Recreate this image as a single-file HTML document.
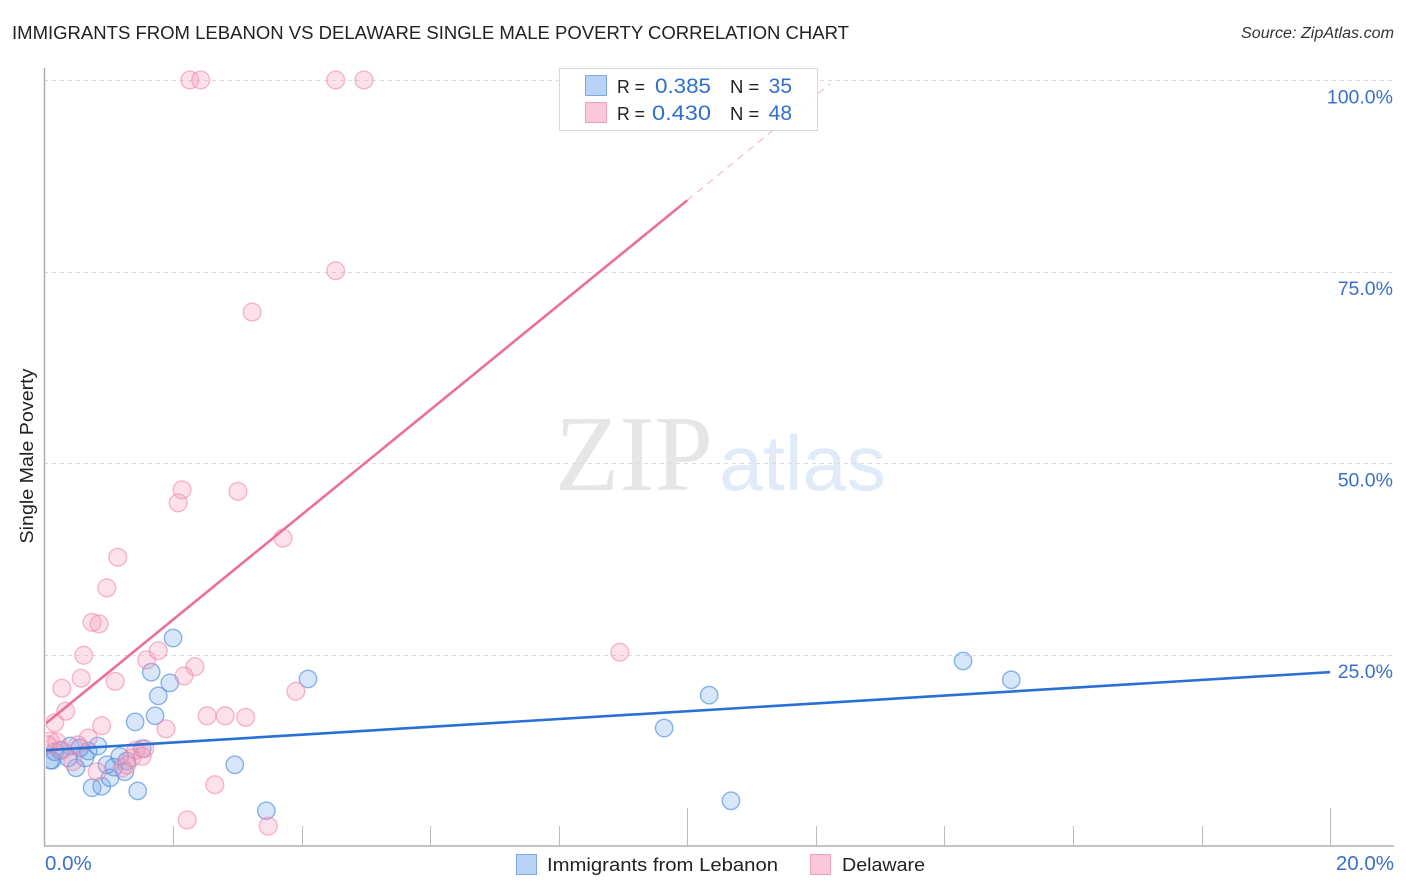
<!DOCTYPE html>
<html lang="en">
<head>
<meta charset="utf-8">
<title>Immigrants from Lebanon vs Delaware Single Male Poverty Correlation Chart</title>
<style>
html,body{margin:0;padding:0;background:#fff;}
body{width:1406px;height:892px;overflow:hidden;font-family:"Liberation Sans",sans-serif;}
svg{display:block;}
text{font-family:"Liberation Sans",sans-serif;}
</style>
</head>
<body>
<svg id="chart" width="1406" height="892" viewBox="0 0 1406 892" xmlns="http://www.w3.org/2000/svg">
  <defs><clipPath id="plot-clip"><rect x="46" y="60" width="1350" height="786"></rect></clipPath></defs>
  <text x="12" y="39" font-size="18.5" fill="#222" textLength="837" lengthAdjust="spacingAndGlyphs">IMMIGRANTS FROM LEBANON VS DELAWARE SINGLE MALE POVERTY CORRELATION CHART</text>
  <text x="1241" y="38" font-size="15.5" font-style="italic" fill="#333" textLength="153" lengthAdjust="spacingAndGlyphs">Source: ZipAtlas.com</text>
  <text x="555" y="490" font-size="108" fill="#e6e6e6" textLength="158" lengthAdjust="spacingAndGlyphs" style="font-family:'Liberation Serif',serif">ZIP</text>
  <text x="719" y="490" font-size="78" fill="#e0eaf8" textLength="167" lengthAdjust="spacingAndGlyphs">atlas</text>
  <g id="grid"></g>
  <g id="axes"></g>
  <g id="series-blue" clip-path="url(#plot-clip)"></g>
  <g id="series-pink" clip-path="url(#plot-clip)"></g>
  <g id="trends" clip-path="url(#plot-clip)"></g>
  <text x="-87.5" y="0" transform="translate(33 456) rotate(-90)" font-size="18.5" fill="#222" textLength="175" lengthAdjust="spacingAndGlyphs">Single Male Poverty</text>

  <g>
    <rect x="559.5" y="68.5" width="258" height="62" fill="#fff" fill-opacity="0.92" stroke="#d8d8d8"></rect>
    <rect x="585.5" y="75.5" width="21" height="20" fill="#b8d3f5" stroke="#7fa9e0"></rect>
    <rect x="585.5" y="102.5" width="21" height="20" fill="#fcc8d9" stroke="#f0a0bb"></rect>
    <text x="617" y="93" font-size="18.5" fill="#222" textLength="28" lengthAdjust="spacingAndGlyphs">R =</text>
    <text x="655" y="93" font-size="21" fill="#2f6fd0" textLength="56" lengthAdjust="spacingAndGlyphs">0.385</text>
    <text x="730" y="93" font-size="18.5" fill="#222">N =</text>
    <text x="792" y="93" font-size="21" fill="#2f6fd0" text-anchor="end">35</text>
    <text x="617" y="120" font-size="18.5" fill="#222" textLength="28" lengthAdjust="spacingAndGlyphs">R =</text>
    <text x="652" y="120" font-size="21" fill="#2f6fd0" textLength="59" lengthAdjust="spacingAndGlyphs">0.430</text>
    <text x="730" y="120" font-size="18.5" fill="#222">N =</text>
    <text x="792" y="120" font-size="21" fill="#2f6fd0" text-anchor="end">48</text>
  </g>

  <g>
    <rect x="516.5" y="854.5" width="20" height="20" fill="#b8d3f5" stroke="#7fa9e0"></rect>
    <text x="547" y="871" font-size="18.5" fill="#222" textLength="231" lengthAdjust="spacingAndGlyphs">Immigrants from Lebanon</text>
    <rect x="810.5" y="854.5" width="20" height="20" fill="#fcc8d9" stroke="#f0a0bb"></rect>
    <text x="842" y="871" font-size="18.5" fill="#222" textLength="83" lengthAdjust="spacingAndGlyphs">Delaware</text>
  </g>
</svg>
<script>
var blueX = [2.00,1.66,1.95,1.77,1.72,1.41,4.10,2.96,3.45,14.29,15.04,10.34,9.64,10.68,1.45,0.74,0.89,1.02,1.25,0.97,1.17,0.83,0.68,0.63,0.49,0.37,0.40,0.24,0.12,0.09,1.08,1.28,1.52,0.16,0.55];
var blueY = [27.15,22.7,21.3,19.6,17.0,16.2,21.8,10.6,4.6,24.15,21.7,19.7,15.4,5.9,7.2,7.6,7.8,8.9,9.7,10.6,11.7,13.05,12.4,11.5,10.2,11.5,13.05,12.5,11.2,11.2,10.3,11.1,12.7,12.3,12.8];
var pinkX = [2.26,2.43,4.53,4.97,4.53,3.23,2.14,2.08,3.01,3.71,1.14,0.97,0.74,0.85,0.61,0.57,0.27,0.33,0.16,1.10,1.59,1.77,2.34,2.17,3.91,2.53,2.81,3.13,1.89,0.89,0.68,8.95,2.65,2.22,3.48,0.82,0.09,0.19,0.52,0.44,1.21,1.36,1.42,1.56,1.52,1.28,0.05,0.27];
var pinkY = [100,100,100,100,75.1,69.7,46.5,44.8,46.3,40.2,37.7,33.7,29.2,29.0,24.9,21.9,20.6,17.6,16.1,21.5,24.3,25.5,23.4,22.2,20.2,17.0,17.0,16.8,15.3,15.7,14.1,25.3,8.0,3.4,2.6,9.7,13.7,13.6,13.2,11.0,10.2,11.5,12.5,12.7,11.7,10.6,13.2,12.5];
var blueTrendX = [0.02,20];
var blueTrendY = [12.5,22.7];
var pinkTrendSolidX = [0.02,10];
var pinkTrendSolidY = [16.0,84.3];
var pinkTrendDashX = [10,12.22];
var pinkTrendDashY = [84.3,99.5];
var yTickValues = [100,75,50,25];
var yTickLabels = ["100.0%","75.0%","50.0%","25.0%"];
var xTickValues = [2,4,6,8,10,12,14,16,18,20];
var xEndValues = [0,20];
var xEndLabels = ["0.0%","20.0%"];

function xScale(v){ return 44.5 + v * 64.28; }
function yScale(v){ return 846 - v * 7.66; }

var NS = 'http://www.w3.org/2000/svg';
function make(tag, attrs, parent){
  var el = document.createElementNS(NS, tag);
  for (var k in attrs) { el.setAttribute(k, attrs[k]); }
  parent.appendChild(el);
  return el;
}

var grid = document.getElementById('grid');
var axes = document.getElementById('axes');
yTickValues.forEach(function(v, i){
  var yy = Math.round(yScale(v)) + 0.5;
  var line = make('line', {x1:44, x2:1394, y1:yy, y2:yy, stroke:'#dcdcdc', 'stroke-width':1, 'stroke-dasharray':'4 4'}, grid);
  
  
  var t = make('text', {x:1393, y:yScale(v)+23.5, 'font-size':19.5, fill:'#3a6fd0', 'text-anchor':'end'}, axes);
  t.textContent = yTickLabels[i];
  
  
});
var yAxis = make('line', {x1:44.5, x2:44.5, y1:68, y2:846, stroke:'#b0b0b0', 'stroke-width':1.5}, axes);


var xAxis = make('line', {x1:44, x2:1394, y1:846, y2:846, stroke:'#b0b0b0', 'stroke-width':1.5}, axes);


xTickValues.forEach(function(v){
  var long = (v === 10 || v === 20);
  var xx = Math.round(xScale(v)) + 0.5;
  var tick = make('line', {x1:xx, x2:xx, y1:long ? 808 : 826, y2:846, stroke:'#bdbdbd', 'stroke-width':1}, axes);
  
  
});
xEndValues.forEach(function(v, i){
  var t = make('text', {x: i === 0 ? 45 : 1394, y:870, 'font-size':20.5, fill:'#3a6fd0', 'text-anchor': i === 0 ? 'start' : 'end'}, axes);
  t.textContent = xEndLabels[i];
  
  
});

var gBlue = document.getElementById('series-blue');
blueX.forEach(function(v, i){
  var c = make('circle', {cx:xScale(v), cy:yScale(blueY[i]), r:8.7, fill:'#6ea6ea', 'fill-opacity':0.28, stroke:'#4f8fdc', 'stroke-opacity':0.65, 'stroke-width':1.4}, gBlue);
  
  
});
var gPink = document.getElementById('series-pink');
pinkX.forEach(function(v, i){
  var c = make('circle', {cx:xScale(v), cy:yScale(pinkY[i]), r:8.9, fill:'#f59ab8', 'fill-opacity':0.3, stroke:'#ee82a6', 'stroke-opacity':0.55, 'stroke-width':1.4}, gPink);
  
  
});

var gTrends = document.getElementById('trends');
var blueLine = make('line', {x1:xScale(blueTrendX[0]), y1:yScale(blueTrendY[0]), x2:xScale(blueTrendX[1]), y2:yScale(blueTrendY[1]), stroke:'#2a6fd4', 'stroke-width':2.6}, gTrends);


var pinkLine = make('line', {x1:xScale(pinkTrendSolidX[0]), y1:yScale(pinkTrendSolidY[0]), x2:xScale(pinkTrendSolidX[1]), y2:yScale(pinkTrendSolidY[1]), stroke:'#ea6f9a', 'stroke-width':2.6}, gTrends);


var pinkDash = make('line', {x1:xScale(pinkTrendDashX[0]), y1:yScale(pinkTrendDashY[0]), x2:xScale(pinkTrendDashX[1]), y2:yScale(pinkTrendDashY[1]), stroke:'#ee86aa', 'stroke-width':1, 'stroke-opacity':0.7, 'stroke-dasharray':'7 6'}, gTrends);


</script>
</body>
</html>
